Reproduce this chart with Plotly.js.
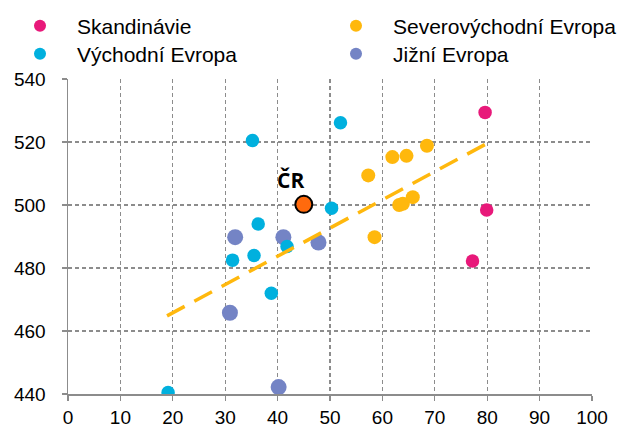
<!DOCTYPE html>
<html>
<head>
<meta charset="utf-8">
<script src="https://cdn.plot.ly/plotly-3.0.1.min.js"></script>
<style>html,body{margin:0;padding:0;background:#fff}#chart{width:621px;height:426px}</style>
</head>
<body>
<div id="chart"></div>
<script>
// ---- data ----
const seriesNames = ["Skandinávie", "Severovýchodní Evropa", "Východní Evropa", "Jižní Evropa"];

const scandX = [79.6, 79.9, 77.2];
const scandY = [529.4, 498.4, 482.2];

const northEastX = [57.3, 61.9, 64.6, 68.5, 58.5, 63.2, 63.9, 65.8];
const northEastY = [509.4, 515.2, 515.6, 518.8, 489.8, 500.0, 500.4, 502.5];

const eastX = [35.2, 52.0, 50.3, 36.3, 35.5, 31.4, 41.8, 38.8, 19.1];
const eastY = [520.5, 526.1, 499.0, 494.0, 484.0, 482.5, 486.8, 472.0, 440.5];

const southX = [31.9, 41.1, 47.8, 30.9, 40.2];
const southY = [489.8, 489.8, 488.1, 465.8, 442.2];

const czLabel = "ČR";
const czX = [45.0];
const czY = [500.2];

const trendX = [18.9, 79.8];
const trendY = [464.8, 519.4];

const xTicks = [0, 10, 20, 30, 40, 50, 60, 70, 80, 90, 100];
const yTicks = [440, 460, 480, 500, 520, 540];

// ---- styling ----
const colMag = "#E8197A", colOra = "#FFB80D", colCya = "#00B0DE", colPur = "#7484C5";
const gridCol = "#8C8C8C";

const traces = [
  {x: southX, y: southY, name: seriesNames[3], type: "scatter", mode: "markers",
   marker: {color: colPur, size: 16}, legend: "legend4"},
  {x: scandX, y: scandY, name: seriesNames[0], type: "scatter", mode: "markers",
   marker: {color: colMag, size: 13.5}, legend: "legend"},
  {x: northEastX, y: northEastY, name: seriesNames[1], type: "scatter", mode: "markers",
   marker: {color: colOra, size: 14}, legend: "legend2"},
  {x: eastX, y: eastY, name: seriesNames[2], type: "scatter", mode: "markers",
   marker: {color: colCya, size: 13.5}, legend: "legend3"},
  {x: trendX, y: trendY, type: "scatter", mode: "lines", showlegend: false,
   line: {color: colOra, width: 3.5, dash: "20px,11px"}, hoverinfo: "skip"},
  {x: czX, y: czY, name: czLabel, type: "scatter", mode: "markers", showlegend: false,
   marker: {color: "#FF6A0D", size: 17, line: {color: "#000", width: 2}}}
];

function legendAt(px, py) {
  return {
    orientation: "v", xref: "container", yref: "container",
    x: px / 621, y: 1 - py / 426, xanchor: "left", yanchor: "middle",
    itemwidth: 64, itemsizing: "constant",
    font: {size: 21, color: "#000"}, bgcolor: "rgba(0,0,0,0)", borderwidth: 0
  };
}

const layout = {
  width: 621, height: 426,
  margin: {l: 68, r: 29, t: 79, b: 32, autoexpand: false},
  paper_bgcolor: "#fff", plot_bgcolor: "#fff",
  font: {family: "Liberation Sans, Arial, sans-serif", size: 19, color: "#000"},
  showlegend: true,
  legend: legendAt(3, 26),
  legend2: legendAt(319, 26),
  legend3: legendAt(3, 54),
  legend4: legendAt(319, 54),
  xaxis: {
    range: [0, 100], tickvals: xTicks, ticktext: xTicks.map(String),
    showline: true, linecolor: gridCol, linewidth: 1.5,
    showgrid: true, gridcolor: gridCol, gridwidth: 1.3, griddash: "4px,3px",
    ticks: "outside", ticklen: 5, tickcolor: gridCol, tickwidth: 1.3,
    zeroline: false, fixedrange: true, ticklabelstandoff: 1
  },
  yaxis: {
    range: [440, 540], tickvals: yTicks, ticktext: yTicks.map(String),
    showline: true, linecolor: gridCol, linewidth: 1.5,
    showgrid: true, gridcolor: gridCol, gridwidth: 1.3, griddash: "4px,3px",
    ticks: "outside", ticklen: 5, tickcolor: gridCol, tickwidth: 1.3,
    zeroline: false, fixedrange: true, ticklabelstandoff: 12
  },
  annotations: [{
    x: czX[0], y: czY[0], xref: "x", yref: "y", text: "<b>" + czLabel + "</b>",
    showarrow: false, xshift: -13, yshift: 24,
    font: {family: "Open Sans, sans-serif", size: 21, color: "#000"}
  }]
};

Plotly.newPlot("chart", traces, layout, {displayModeBar: false, staticPlot: true});
</script>
</body>
</html>
